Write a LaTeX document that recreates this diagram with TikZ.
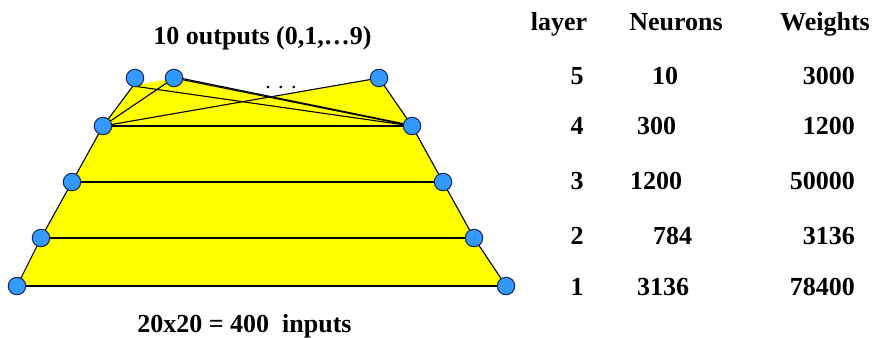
\documentclass[tikz,border=0pt]{standalone}
\usepackage{fontspec}
\setmainfont{Liberation Serif}
\definecolor{bodyyellow}{RGB}{255,255,0}
\definecolor{neuronblue}{RGB}{51,153,255}
\definecolor{neuronedge}{RGB}{20,40,90}
\begin{document}
\begin{tikzpicture}[x=1pt,y=-1pt,
  neuron/.style={circle,draw=neuronedge,line width=1pt,fill=neuronblue,minimum size=17.5pt,inner sep=0pt},
  conn/.style={line width=1.1pt,black},
  txt/.style={font=\fontsize{26}{30}\selectfont\bfseries,inner sep=0pt}]
\useasboundingbox (0,0) rectangle (874,337);
% node positions
\coordinate (a5) at (135,78);
\coordinate (b5) at (174,78);
\coordinate (c5) at (379,78);
\coordinate (l4) at (103,126);
\coordinate (r4) at (412,126);
\coordinate (l3) at (72,182);
\coordinate (r3) at (443,182);
\coordinate (l2) at (41,238);
\coordinate (r2) at (474,238);
\coordinate (l1) at (17,286);
\coordinate (r1) at (506,286);
\coordinate (a5s) at (133,86);
\coordinate (x) at (intersection of b5--r4 and c5--l4);
% yellow body
\fill[bodyyellow] (l1) -- (l2) -- (l3) -- (l4) -- (a5s) -- (b5) -- (x) -- (c5) -- (r4) -- (r3) -- (r2) -- (r1) -- cycle;
% outline edges
\draw[conn] (l1) -- (l2) -- (l3) -- (l4) -- (a5s);
\draw[conn] (c5) -- (r4) -- (r3) -- (r2) -- (r1);
% horizontal connectors
\draw[conn] (l1) -- (r1);
\draw[conn] (l2) -- (r2);
\draw[conn] (l3) -- (r3);
\draw[conn] (l4) -- (r4);
% top connectors
\draw[conn] (a5s) -- (r4);
\draw[conn] (b5) -- (l4);
\draw[conn] (b5) -- (r4);
\draw[conn] ([yshift=1.2pt]b5) -- ([yshift=1.2pt,xshift=-3pt]r4);
\draw[conn] (c5) -- (l4);
% neurons
\foreach \p in {a5,b5,c5,l4,r4,l3,r3,l2,r2,l1,r1}
  \node[neuron] (n\p) at (\p) {};
% dots
\node[font=\fontsize{22}{24}\selectfont,inner sep=0pt,anchor=base] (dots) at (281,88) {.\,\,.\,\,.};
% titles
\node[txt,anchor=base] (top) at (262.5,45) {10 outputs (0,1,…9)};
\node[txt,anchor=base] (bot) at (244.5,332) {20x20 = 400\ \ inputs};
% table headers
\node[txt,anchor=base] (hl) at (559,31) {layer};
\node[txt,anchor=base] (hn) at (676,31) {Neurons};
\node[txt,anchor=base] (hw) at (825,31) {Weights};
% rows
\node[txt,anchor=base] (l5t) at (577,84) {5};
\node[txt,anchor=base] (l4t) at (577,134) {4};
\node[txt,anchor=base] (l3t) at (577,189) {3};
\node[txt,anchor=base] (l2t) at (577,244) {2};
\node[txt,anchor=base] (l1t) at (577,295) {1};
\node[txt,anchor=base west] (n5t) at (652,84) {10};
\node[txt,anchor=base west] (n4t) at (637,134) {300};
\node[txt,anchor=base west] (n3t) at (630,189) {1200};
\node[txt,anchor=base west] (n2t) at (653,244) {784};
\node[txt,anchor=base west] (n1t) at (637,295) {3136};
\node[txt,anchor=base east] (w5t) at (855,84) {3000};
\node[txt,anchor=base east] (w4t) at (855,134) {1200};
\node[txt,anchor=base east] (w3t) at (855,189) {50000};
\node[txt,anchor=base east] (w2t) at (855,244) {3136};
\node[txt,anchor=base east] (w1t) at (855,295) {78400};
\end{tikzpicture}
\end{document}
